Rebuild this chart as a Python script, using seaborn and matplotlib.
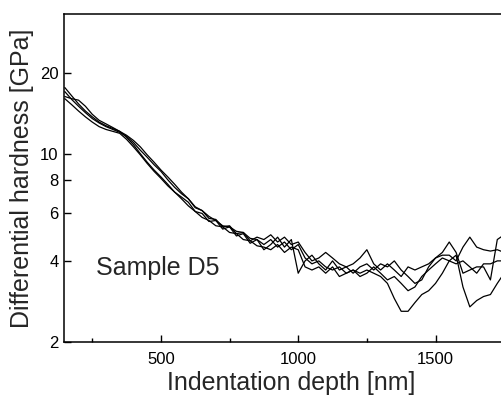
import numpy as np
import pandas as pd
import seaborn as sns
import matplotlib.pyplot as plt
from matplotlib.ticker import FixedLocator, NullLocator, MultipleLocator, FixedFormatter

# indentation depth [nm], shared by all four runs
depth = list(range(150, 1751, 25))

# differential hardness [GPa], one list per run
run_a = [17.6, 16.4, 15.3, 14.4, 13.7, 13.1, 12.7, 12.4, 12.1, 11.5, 10.8, 10.0, 9.3, 8.7,
         8.2, 7.7, 7.2, 6.9, 6.6, 6.1, 6.0, 5.6, 5.65, 5.25, 5.35, 4.95, 5.05, 4.65, 4.8,
         4.6, 4.8, 4.5, 4.7, 4.4, 4.6, 4.1, 3.9, 4.0, 3.8, 3.7, 3.8, 3.6, 3.7, 3.6, 3.7,
         3.6, 3.5, 3.3, 2.9, 2.6, 2.6, 2.8, 3.0, 3.1, 3.3, 3.6, 4.0, 4.2, 3.2, 2.7, 2.85,
         2.95, 3.0, 3.3, 3.6]
run_b = [17.0, 15.9, 15.0, 14.2, 13.5, 13.0, 12.6, 12.3, 12.0, 11.6, 11.0, 10.3, 9.7, 9.1,
         8.6, 8.0, 7.5, 7.1, 6.8, 6.3, 6.15, 5.75, 5.7, 5.35, 5.4, 5.05, 5.1, 4.75, 4.9,
         4.8, 5.0, 4.7, 4.9, 4.6, 4.7, 4.3, 4.0, 4.1, 4.3, 4.1, 3.9, 3.8, 3.9, 4.1, 4.4,
         3.9, 3.7, 3.9, 3.7, 3.5, 3.8, 3.7, 3.8, 3.9, 4.1, 4.2, 4.2, 4.0, 4.5, 4.9, 4.5,
         4.4, 4.35, 4.4, 4.3]
run_c = [16.3, 16.0, 15.8, 15.0, 14.0, 13.3, 12.9, 12.5, 12.1, 11.7, 11.2, 10.6, 9.9, 9.3,
         8.7, 8.2, 7.7, 7.2, 6.8, 6.35, 6.15, 5.85, 5.65, 5.4, 5.35, 5.15, 5.1, 4.85, 4.8,
         4.4, 4.6, 4.9, 4.5, 4.8, 3.6, 4.0, 4.2, 3.9, 3.7, 4.0, 3.7, 3.8, 3.6, 3.8, 3.9,
         3.7, 3.9, 3.8, 4.0, 3.7, 3.5, 3.3, 3.4, 3.8, 4.1, 4.3, 4.7, 4.3, 3.6, 3.7, 3.8,
         3.8, 3.4, 4.8, 5.0]
run_d = [16.0, 15.2, 14.4, 13.7, 13.1, 12.6, 12.3, 12.1, 11.9, 11.3, 10.6, 9.9, 9.2, 8.6,
         8.1, 7.6, 7.2, 6.8, 6.4, 6.1, 5.8, 5.65, 5.4, 5.35, 5.1, 5.05, 4.8, 4.75, 4.55,
         4.5, 4.4, 4.6, 4.3, 4.5, 4.4, 3.8, 3.7, 3.8, 3.6, 3.8, 3.5, 3.6, 3.7, 3.5, 3.6,
         3.8, 3.6, 3.4, 3.5, 3.3, 3.1, 3.2, 3.5, 3.7, 3.9, 4.1, 4.0, 3.9, 4.0, 3.8, 3.6,
         3.9, 3.9, 4.0, 4.0]

y_ticks = [2, 4, 6, 8, 10, 20]
x_ticks = [500, 1000, 1500]

runs = {"a": run_a, "b": run_b, "c": run_c, "d": run_d}
df = pd.concat(
    [pd.DataFrame({"depth": depth, "hardness": vals, "run": name}) for name, vals in runs.items()],
    ignore_index=True,
)

sns.set_theme(style="ticks")
plt.rcParams["font.family"] = ["Liberation Sans", "DejaVu Sans"]

fig = plt.figure(figsize=(5.01, 3.96), dpi=100)
# axes runs past the right edge of the figure, like the cropped original
ax = fig.add_axes([0.1277, 0.1364, 0.906, 0.8283])

sns.lineplot(data=df, x="depth", y="hardness", hue="run", palette=["black"] * 4,
             estimator=None, sort=False, legend=False, linewidth=0.9, ax=ax)

ax.set_yscale("log")
ax.set_xlim(147, 1800)
ax.set_ylim(2, 33)

ax.yaxis.set_major_locator(FixedLocator(y_ticks))
ax.yaxis.set_major_formatter(FixedFormatter([str(t) for t in y_ticks]))
ax.yaxis.set_minor_locator(NullLocator())
ax.xaxis.set_major_locator(FixedLocator(x_ticks))
ax.xaxis.set_minor_locator(MultipleLocator(250))

ax.tick_params(axis="both", which="both", direction="in", colors="black", labelsize=12)
ax.tick_params(axis="both", which="major", length=5, width=1)
ax.tick_params(axis="x", which="minor", length=3, width=1)
ax.tick_params(axis="x", which="major", pad=7)
ax.tick_params(axis="y", which="major", pad=4)

for side in ["left", "bottom", "top"]:
    ax.spines[side].set_visible(True)
    ax.spines[side].set_linewidth(1.1)
    ax.spines[side].set_color("black")

ax.set_xlabel("Indentation depth [nm]", fontsize=18, labelpad=3)
ax.set_ylabel("Differential hardness [GPa]", fontsize=18, labelpad=4)

ax.text(265, 3.78, "Sample D5", fontsize=18, ha="left", va="center")

fig.savefig("out.png", dpi=100)
